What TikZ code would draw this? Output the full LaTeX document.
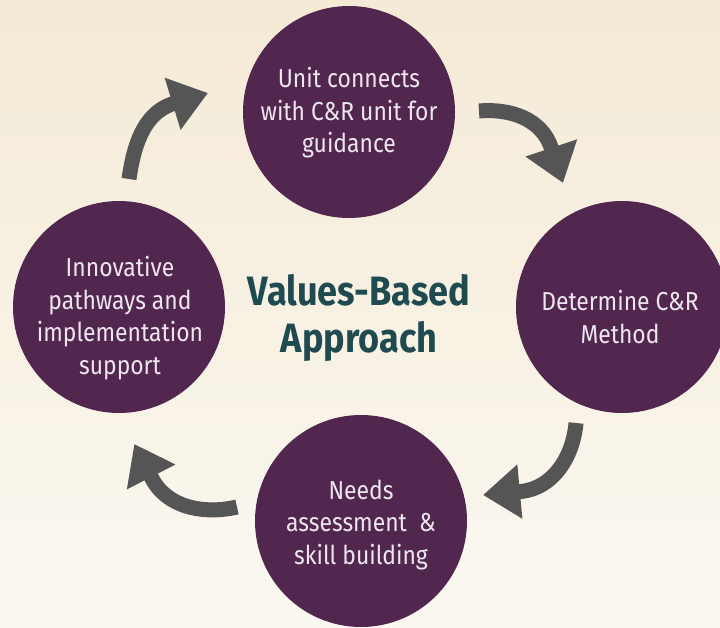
\documentclass[tikz,border=0pt]{standalone}
\usepackage{fontspec}
\setmainfont{Fira Sans}[FakeStretch=0.88]
\usetikzlibrary{arrows.meta,calc}
\definecolor{bgtop}{RGB}{244,234,214}
\definecolor{bgbot}{RGB}{251,248,241}
\definecolor{plum}{RGB}{82,39,79}
\definecolor{ctxt}{RGB}{238,230,238}
\definecolor{tealtxt}{RGB}{31,74,80}
\definecolor{arrgray}{RGB}{85,85,85}
\begin{document}
\begin{tikzpicture}[x=1pt,y=-1pt,
  circ/.style={circle,fill=plum,minimum size=212pt,inner sep=0pt},
  ctext/.style={text=ctxt,align=center,inner sep=0pt,font=\fontsize{26}{32.5}\selectfont},
  ttl/.style={text=tealtxt,anchor=base,inner sep=0pt,font=\fontsize{41}{47}\selectfont\bfseries},
  cyc/.style={draw=arrgray,line width=15pt,-{Triangle[width=52pt,length=37pt]}}]
\clip (0,0) rectangle (720,627);
\shade[top color=bgtop,bottom color=bgbot] (0,0) rectangle (720,627);

% circles
\node[circ] (c1) at (349,112) {};
\node[circ] (c2) at (622,307) {};
\node[circ] (c3) at (361,521) {};
\node[circ] (c4) at (119,307) {};

% circle texts
\node[ctext] (t1) at (349,113) {Unit connects\\with C\&R unit for\\guidance};
\node[ctext] (t2) at (620,317) {Determine C\&R\\Method};
\node[ctext] (t3) at (361,525) {Needs\\assessment\ \ \&\\skill building};
\node[ctext] (t4) at (120,318) {Innovative\\pathways and\\implementation\\support};

% title
\node[ttl] (v1) at (359,305) {Values-Based};
\node[ttl] (v2) at (359,352) {Approach};

% arrows
\coordinate (a1s) at (129,179); \coordinate (a1b) at (172,104); \coordinate (a1e) at (208,93);
\coordinate (a2s) at (479,111); \coordinate (a2b) at (551.3,147.9); \coordinate (a2e) at (563,183);
\coordinate (a3s) at (576,423); \coordinate (a3b) at (520.5,491.5); \coordinate (a3e) at (483,495);
\coordinate (a4s) at (237,507); \coordinate (a4b) at (151.7,478); \coordinate (a4e) at (134.3,444);

\draw[cyc] (a1s) .. controls (133.3,148.2) and (142.6,114.1) .. (a1b) -- (a1e);
\draw[cyc] (a2s) .. controls (509.8,108.3) and (541.5,118.6) .. (a2b) -- (a2e);
\draw[cyc] (a3s) .. controls (573.1,456.2) and (553.6,488.4) .. (a3b) -- (a3e);
\draw[cyc] (a4s) .. controls (204.3,514.6) and (167,507.9) .. (a4b) -- (a4e);
\end{tikzpicture}
\end{document}
